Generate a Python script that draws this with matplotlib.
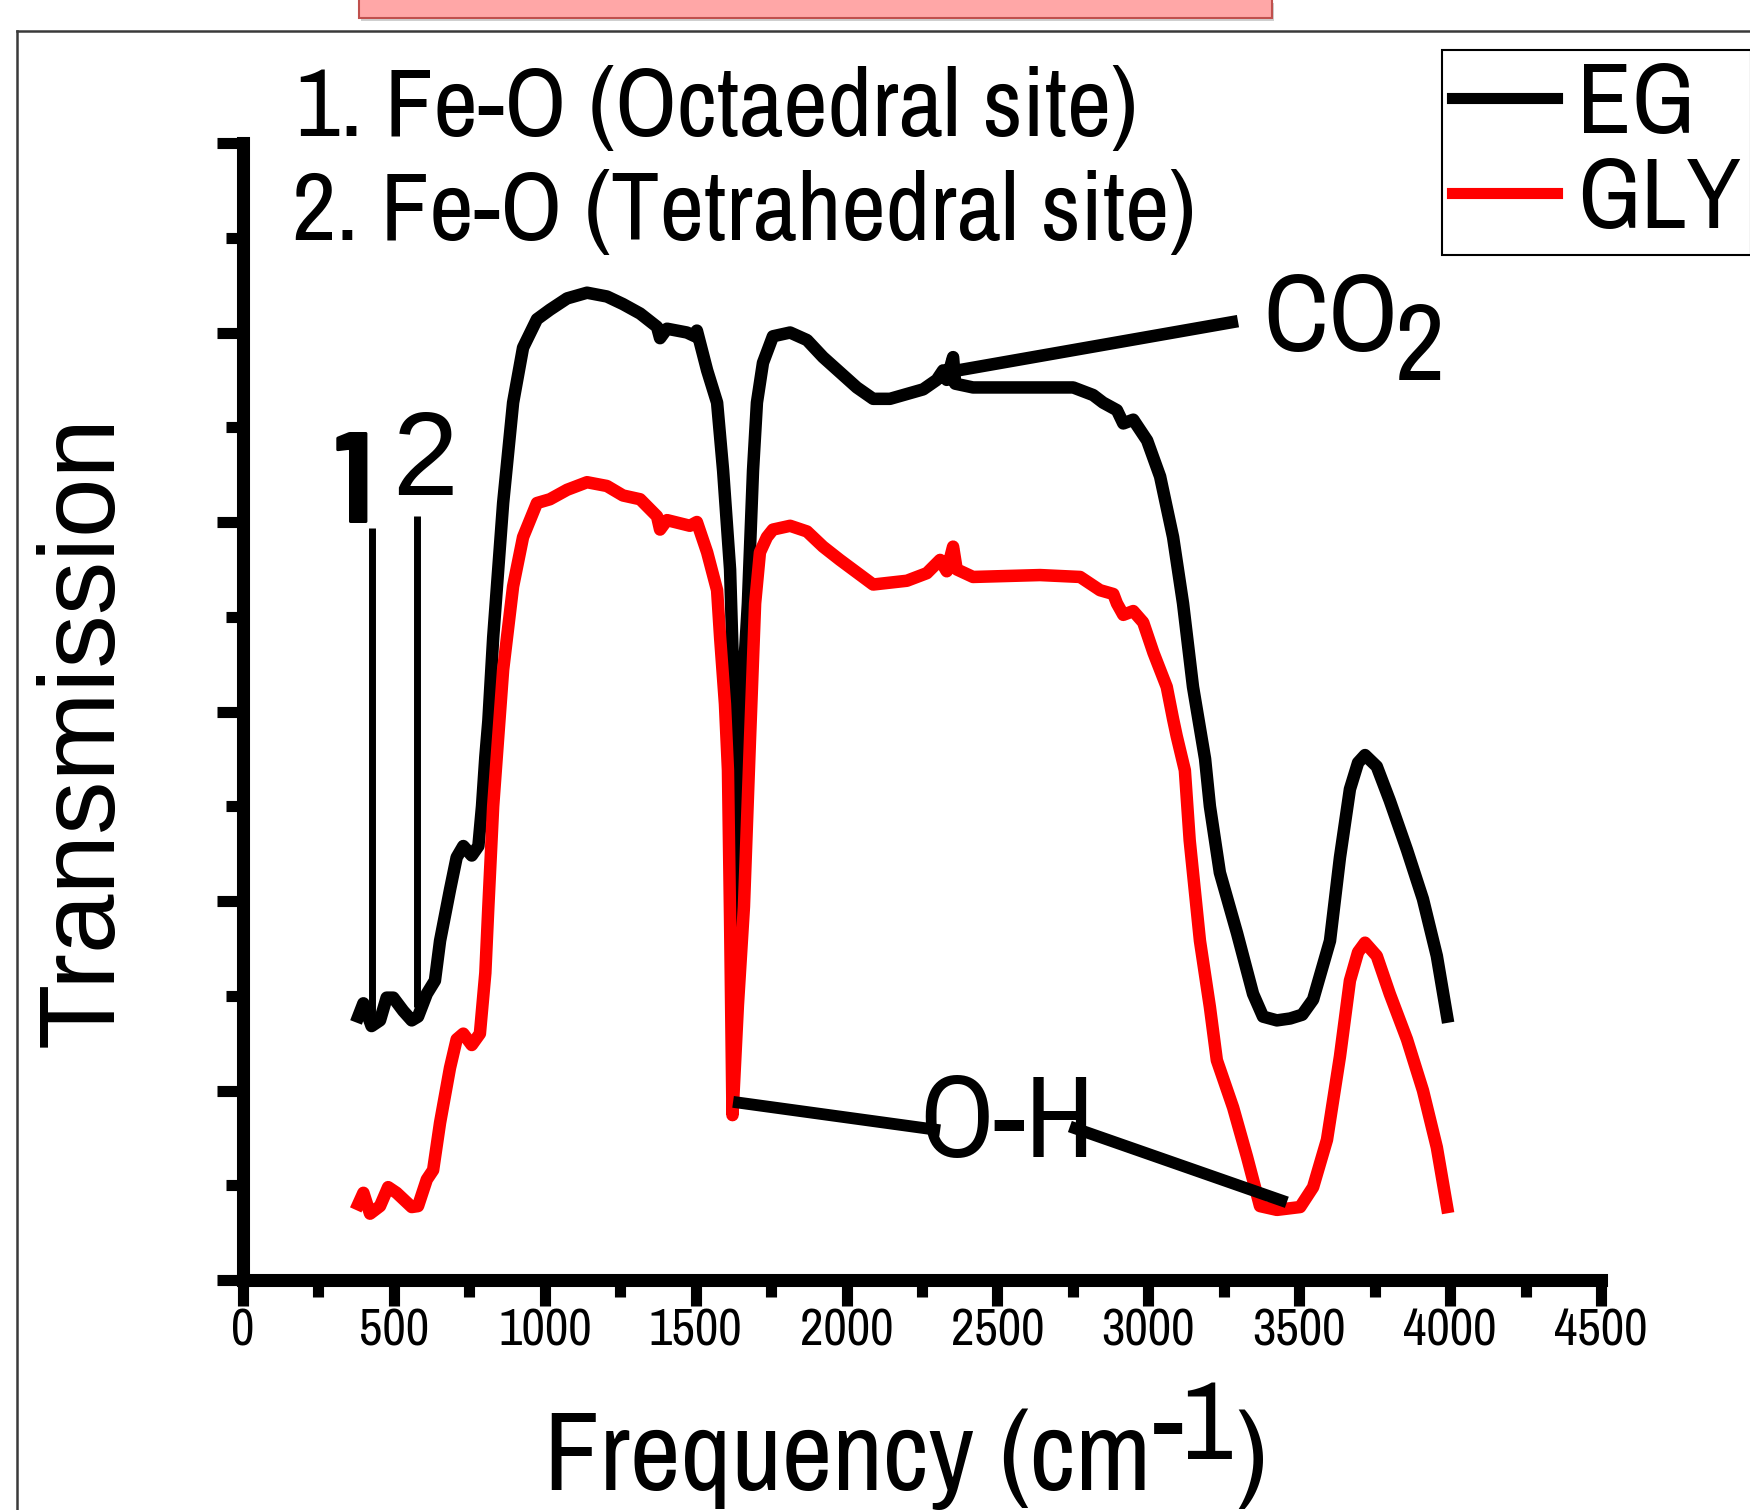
import matplotlib
matplotlib.use("Agg")
import matplotlib.pyplot as plt
from matplotlib.patches import Rectangle
from matplotlib.lines import Line2D
from matplotlib.ticker import MultipleLocator

NARROW = ["Archivo Narrow", "Liberation Sans", "DejaVu Sans"]
REGULAR = ["Liberation Sans", "DejaVu Sans"]
BOLD_NARROW = ["Barlow Condensed", "Asap Condensed", "Liberation Sans", "DejaVu Sans"]

plt.rcParams["font.family"] = NARROW

# ---------------- data ----------------
eg_freq = [382, 399, 426, 454, 476, 498, 531, 559, 580, 609, 636, 653, 686, 708,
           730, 758, 780, 792, 803, 813, 829, 862, 895, 928, 974, 1017, 1074,
           1140, 1206, 1259, 1316, 1372, 1382, 1405, 1471, 1498, 1504, 1538,
           1571, 1591, 1614, 1624, 1630, 1637, 1645, 1655, 1665, 1673, 1690,
           1703, 1723, 1756, 1813, 1869, 1922, 1978, 2034, 2088, 2144, 2254,
           2299, 2320, 2332, 2353, 2360, 2419, 2500, 2585, 2650, 2751, 2817,
           2850, 2896, 2917, 2950, 2996, 3039, 3082, 3115, 3148, 3188, 3204,
           3237, 3294, 3347, 3380, 3426, 3470, 3510, 3546, 3602, 3635, 3668,
           3695, 3718, 3757, 3800, 3857, 3910, 3956, 3990]
eg_trans = [1.39, 1.46, 1.34, 1.37, 1.49, 1.49, 1.42, 1.37, 1.39, 1.51, 1.58,
            1.79, 2.06, 2.23, 2.29, 2.24, 2.29, 2.50, 2.76, 2.95, 3.39, 4.10,
            4.63, 4.92, 5.07, 5.12, 5.18, 5.21, 5.19, 5.15, 5.10, 5.03, 4.97,
            5.02, 5.00, 4.98, 5.01, 4.80, 4.63, 4.27, 3.75, 3.22, 2.60, 1.88,
            2.70, 3.10, 3.35, 3.57, 4.27, 4.63, 4.84, 4.98, 5.00, 4.96, 4.87,
            4.79, 4.71, 4.65, 4.65, 4.70, 4.75, 4.80, 4.75, 4.87, 4.73, 4.71,
            4.71, 4.71, 4.71, 4.71, 4.67, 4.63, 4.59, 4.52, 4.54, 4.43, 4.24,
            3.92, 3.57, 3.13, 2.75, 2.50, 2.15, 1.83, 1.51, 1.39, 1.37, 1.38,
            1.40, 1.48, 1.79, 2.23, 2.59, 2.73, 2.77, 2.71, 2.53, 2.27, 2.01,
            1.71, 1.39]

gly_freq = [382, 399, 421, 454, 481, 509, 559, 580, 609, 630, 653, 686, 708,
            730, 758, 785, 803, 813, 829, 845, 862, 895, 928, 974, 1017, 1074,
            1140, 1206, 1259, 1316, 1372, 1382, 1405, 1481, 1504, 1538, 1571,
            1581, 1597, 1607, 1614, 1622, 1640, 1660, 1680, 1697, 1713, 1736,
            1756, 1813, 1869, 1922, 1978, 2088, 2200, 2266, 2310, 2332, 2353,
            2365, 2419, 2641, 2774, 2840, 2884, 2896, 2917, 2950, 2983, 3017,
            3039, 3061, 3082, 3094, 3121, 3137, 3171, 3204, 3227, 3281, 3327,
            3370, 3426, 3503, 3546, 3592, 3635, 3668, 3695, 3718, 3757, 3800,
            3857, 3910, 3956, 3990]
gly_trans = [0.40, 0.46, 0.35, 0.39, 0.49, 0.46, 0.385, 0.39, 0.53, 0.58, 0.83,
             1.12, 1.27, 1.30, 1.24, 1.30, 1.62, 1.97, 2.50, 2.85, 3.22, 3.66,
             3.92, 4.10, 4.12, 4.17, 4.21, 4.19, 4.14, 4.12, 4.03, 3.96, 4.01,
             3.98, 4.00, 3.84, 3.64, 3.39, 3.04, 2.69, 1.90, 0.87, 1.45, 1.97,
             2.85, 3.57, 3.84, 3.92, 3.96, 3.98, 3.95, 3.87, 3.80, 3.67, 3.69,
             3.73, 3.80, 3.74, 3.87, 3.75, 3.71, 3.72, 3.71, 3.64, 3.62, 3.57,
             3.51, 3.53, 3.47, 3.31, 3.22, 3.13, 2.96, 2.87, 2.69, 2.32, 1.79,
             1.44, 1.16, 0.91, 0.65, 0.39, 0.37, 0.385, 0.49, 0.74, 1.18, 1.58,
             1.73, 1.78, 1.71, 1.51, 1.27, 1.00, 0.70, 0.385]

series_names = ["EG", "GLY"]
series_colors = ["black", "red"]
xtick_values = [0, 500, 1000, 1500, 2000, 2500, 3000, 3500, 4000, 4500]

# annotation anchor points (data units)
peak1_x, peak2_x = 427, 577
co2_line_x, co2_line_y = [2333, 3297], [4.79, 5.06]
oh_left_x, oh_left_y = [1624, 2310], [0.94, 0.79]
oh_right_x, oh_right_y = [2740, 3459], [0.81, 0.41]

# ---------------- figure ----------------
fig = plt.figure(figsize=(17.5, 15.1), dpi=100)
ax = fig.add_axes([243 / 1750, 230 / 1510, 1358 / 1750, 1137 / 1510])

ax.plot(eg_freq, eg_trans, color=series_colors[0], lw=9, label=series_names[0],
        solid_joinstyle="round")
ax.plot(gly_freq, gly_trans, color=series_colors[1], lw=9, label=series_names[1],
        solid_joinstyle="round")

ax.set_xlim(0, 4500)
ax.set_ylim(0, 6)
ax.set_xticks(xtick_values)
ax.xaxis.set_minor_locator(MultipleLocator(250))
ax.yaxis.set_major_locator(MultipleLocator(1))
ax.yaxis.set_minor_locator(MultipleLocator(0.5))

for s in ["top", "right"]:
    ax.spines[s].set_visible(False)
for s in ["left", "bottom"]:
    ax.spines[s].set_linewidth(9.4)

ax.tick_params(which="major", direction="out", length=19, width=8)
ax.tick_params(which="minor", direction="out", length=12, width=8)
ax.tick_params(axis="y", labelleft=False)
ax.tick_params(axis="x", labelsize=37, pad=1, labelfontfamily="Archivo Narrow")

ax.set_ylabel("Transmission", fontsize=77, family=REGULAR)
ax.yaxis.label.set_va("center")
ax.yaxis.set_label_coords(-0.1163, 0.483)

# x label with a full-size raised "-1"
xl = fig.text(544 / 1750, 20 / 1510, "Frequency (cm", fontsize=80,
              ha="left", va="baseline")
xl_sup = ax.annotate("-1", xy=(1, 0), xycoords=xl, xytext=(1, 23),
                     textcoords="offset points", fontsize=80, ha="left", va="bottom",
                     annotation_clip=False)
ax.annotate(")", xy=(1, 0), xycoords=xl_sup, xytext=(2, -23),
            textcoords="offset points", fontsize=80, ha="left", va="bottom",
            annotation_clip=False)

# peak markers 1 and 2
ax.plot([peak1_x, peak1_x], [1.36, 3.97], color="black", lw=5, solid_capstyle="butt")
ax.plot([peak2_x, peak2_x], [1.44, 4.03], color="black", lw=5, solid_capstyle="butt")
ax.text(366, 3.995, "1", fontsize=94, fontweight="bold", family=BOLD_NARROW,
        ha="center", va="baseline")
ax.text(603, 4.14, "2", fontsize=85, family=REGULAR, ha="center", va="baseline")

# CO2 leader
ax.plot(co2_line_x, co2_line_y, color="black", lw=9, solid_capstyle="butt")
ax.text(3380, 4.90, "CO", fontsize=79, ha="left", va="baseline")
ax.text(3817, 4.75, "2", fontsize=79, ha="left", va="baseline")

# O-H leaders
ax.plot(oh_left_x, oh_left_y, color="black", lw=8.5, solid_capstyle="butt")
ax.plot(oh_right_x, oh_right_y, color="black", lw=8.5, solid_capstyle="butt")
ax.text(2532, 0.65, "O-H", fontsize=84, ha="center", va="baseline")

# header notes
fig.text(296 / 1750, 1 - 136 / 1510, "1. Fe-O (Octaedral site)", fontsize=70,
         ha="left", va="baseline")
fig.text(292 / 1750, 1 - 240 / 1510, "2. Fe-O (Tetrahedral site)", fontsize=70,
         ha="left", va="baseline")

leg = ax.legend(loc="upper left", bbox_to_anchor=(1442 / 1750, 1 - 50 / 1510),
                bbox_transform=fig.transFigure, prop={"family": NARROW, "size": 72},
                handlelength=1.05, handletextpad=0.2, borderpad=0.1,
                labelspacing=0.05, borderaxespad=0, fancybox=False,
                edgecolor="black", framealpha=1)
leg.get_frame().set_linewidth(1.5)
for ln in leg.get_lines():
    ln.set_linewidth(8)

# slide decorations: border and pink title box
fig.add_artist(Line2D([17 / 1750, 1], [1 - 31 / 1510] * 2, transform=fig.transFigure,
                      color="#3a3a3a", lw=1.8))
fig.add_artist(Line2D([17 / 1750] * 2, [0, 1 - 31 / 1510], transform=fig.transFigure,
                      color="#3a3a3a", lw=1.8))
fig.add_artist(Rectangle((361 / 1750, 1 - 21 / 1510), 913 / 1750, 18 / 1510,
                         transform=fig.transFigure, facecolor="#cfcfcf",
                         edgecolor="none"))
fig.add_artist(Rectangle((359 / 1750, 1 - 18 / 1510), 913 / 1750, 20 / 1510,
                         transform=fig.transFigure, facecolor="#ffa7a7",
                         edgecolor="#c0504d", lw=1.5))

fig.savefig("out.png", dpi=100)
